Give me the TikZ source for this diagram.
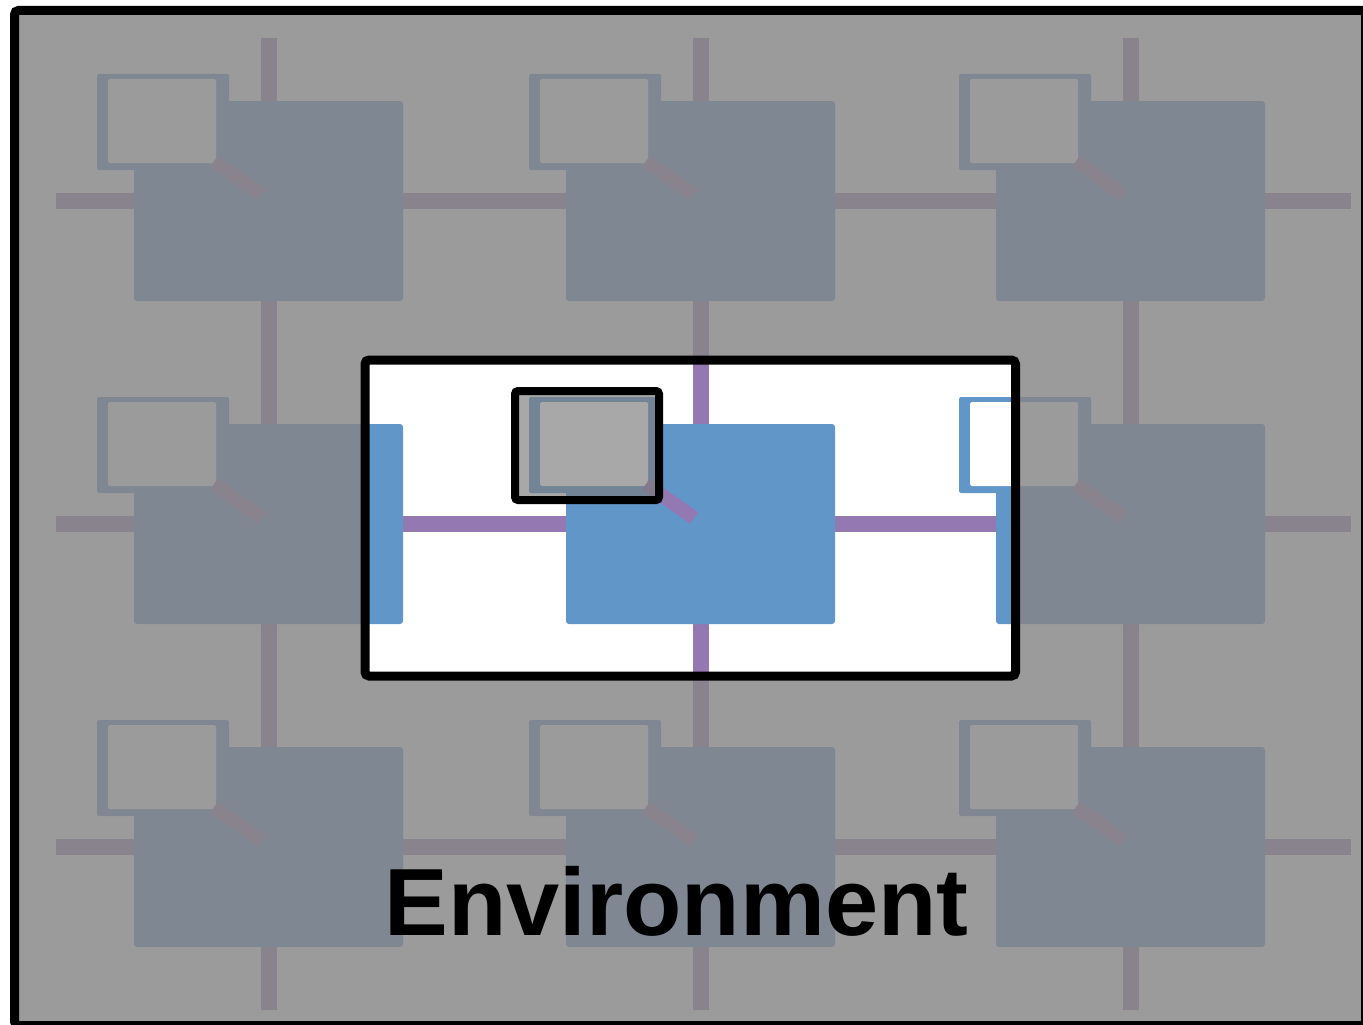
\documentclass[tikz,border=0pt]{standalone}
\usepackage{fontspec}
\setmainfont{Liberation Sans}
\definecolor{tileblue}{RGB}{97,150,201}
\definecolor{wire}{RGB}{148,120,178}
\definecolor{veil}{RGB}{134,134,134}
\definecolor{lens}{RGB}{123,123,123}
\begin{document}
\begin{tikzpicture}[x=1pt,y=-1pt,
  wirestyle/.style={draw=wire,line width=16},
  diagstyle/.style={draw=wire,line width=14},
  blockstyle/.style={fill=tileblue,rounded corners=3},
  portstyle/.style={fill=tileblue,rounded corners=1.5},
  holestyle/.style={fill=white,rounded corners=1.5},
  borderstyle/.style={draw=black,line width=9,rounded corners=4}]
\useasboundingbox (0,0) rectangle (1363,1025);
\clip (0,0) rectangle (1363,1025);
\fill[white] (0,0) rectangle (1363,1025);
\foreach \x in {134,566,996} {
  \foreach \y in {101,424,747} {
    \draw[wirestyle] (\x-78,\y+100) -- (\x+355,\y+100);
    \draw[wirestyle] (\x+134.5,\y-63) -- (\x+134.5,\y+263);
    \path[blockstyle] (\x,\y) rectangle (\x+269,\y+200);
    \path[portstyle] (\x-37,\y-27) rectangle (\x+95,\y+69);
    \path[holestyle] (\x-26,\y-22) rectangle (\x+82,\y+62);
    \draw[diagstyle] (\x+80,\y+60) -- (\x+128,\y+94);
  }
}
% grey veil outside the window
\fill[veil,fill opacity=0.82,even odd rule] (19,15) rectangle (1361,1021) (365,360) rectangle (1015.5,676);
% lens over the highlighted port
\fill[lens,fill opacity=0.66] (515,391) rectangle (659,500);
% borders
\draw[borderstyle] (365,360) rectangle (1015.5,676);
\draw[draw=black,line width=8,rounded corners=3] (515,391) rectangle (659,500);
\draw[borderstyle] (14.5,10.5) rectangle (1365.5,1025.5);
\node[font=\bfseries\fontsize{95.5}{100}\selectfont,anchor=base,inner sep=0] (envlabel) at (676.5,935) {Environment};
\end{tikzpicture}
\end{document}
